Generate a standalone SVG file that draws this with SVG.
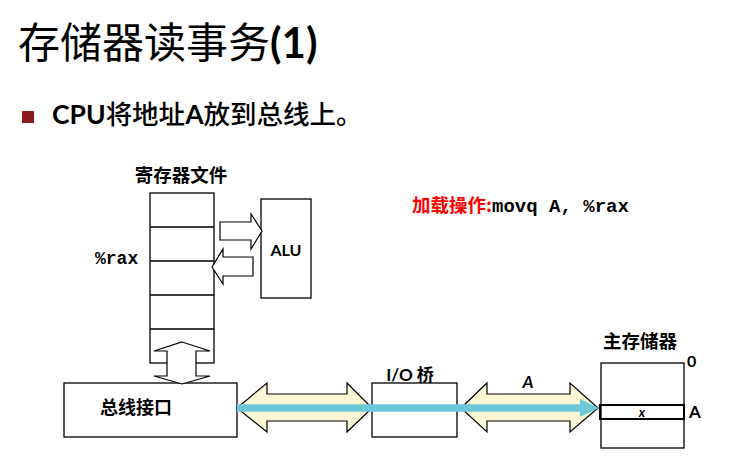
<svg xmlns="http://www.w3.org/2000/svg" width="754" height="457" viewBox="0 0 754 457">
<style>
.box{fill:#fff;stroke:#000;stroke-width:1.3}
.cjk{font-family:"Lato","Noto Sans CJK SC",sans-serif;font-weight:bold;fill:#000}
.mono{font-family:"Liberation Mono",monospace;font-weight:bold;fill:#000}
.bus{fill:#FBF7D5;stroke:#000;stroke-width:1.2}
.wa{fill:#fff;stroke:#000;stroke-width:1.2}
</style>
<rect width="754" height="457" fill="#fff"/>
<g id="title">
<text x="18" y="58" font-family="Lato,'Noto Sans CJK SC',sans-serif" font-size="42" fill="#000">存储器读事务<tspan font-weight="bold">(1)</tspan></text>
</g>
<g id="bullet">
<rect x="22" y="111" width="12" height="12" fill="#8B1A1A"/>
<text x="52" y="124" class="cjk" font-size="26.5">CPU<tspan font-weight="500">将地址</tspan>A<tspan font-weight="500">放到总线上。</tspan></text>
</g>
<g id="op">
<text x="412" y="212" font-family="'Noto Sans CJK SC',sans-serif" font-weight="bold" font-size="18.5" fill="#F00">加载操作:<tspan class="mono" font-size="19" fill="#000">movq A, %rax</tspan></text>
</g>
<g id="regfile">
<text x="181" y="182" class="cjk" font-size="18.5" text-anchor="middle">寄存器文件</text>
<rect x="150" y="193" width="64" height="170" class="box"/>
<path d="M150 227H214M150 261H214M150 295H214M150 329H214" stroke="#000" stroke-width="1.3"/>
<text x="95" y="264" class="mono" font-size="18">%rax</text>
</g>
<g id="alu">
<rect x="261" y="199" width="50" height="99" class="box"/>
<text x="286" y="256" class="cjk" font-size="16" text-anchor="middle">ALU</text>
</g>
<g id="businterface">
<rect x="64" y="383" width="173" height="54" class="box"/>
<text x="136" y="414" class="cjk" font-size="18" text-anchor="middle">总线接口</text>
</g>
<g id="iobridge">
<rect x="372" y="383" width="85" height="54" class="box"/>
<text x="410" y="381" class="cjk" font-size="17" text-anchor="middle">I/O 桥</text>
</g>
<g id="memory">
<text x="640" y="348" class="cjk" font-size="18.5" text-anchor="middle">主存储器</text>
<rect x="601" y="363" width="83" height="85" class="box"/>
<rect x="600" y="405" width="84" height="14" fill="none" stroke="#000" stroke-width="2"/>
<text x="642" y="417" font-family="Lato,sans-serif" font-weight="bold" font-style="italic" font-size="13" text-anchor="middle">x</text>
<text x="687" y="367" class="cjk" font-size="16">0</text>
<text x="689" y="418" class="cjk" font-size="17">A</text>
</g>
<g id="connectors">
<polygon class="wa" points="220,222 251,222 251,214 262,231 251,249 251,240 220,240"/>
<polygon class="wa" points="253,257 223,257 223,249 212,267 223,284 223,276 253,276"/>
<polygon class="wa" points="182,342 210,351 196,351 196,376 210,376 182,384 154,376 167,376 167,351 154,351"/>
<polygon class="bus" points="237,408 267,383 267,394 347,394 347,383 372,408 347,432 347,421 267,421 267,432"/>
<polygon class="bus" points="461,408 487,383 487,394 570,394 570,383 598,408 570,432 570,421 487,421 487,432"/>
<text x="528" y="388" font-family="Lato,sans-serif" font-weight="bold" font-style="italic" font-size="17" text-anchor="middle">A</text>
<line x1="237" y1="408" x2="582" y2="408" stroke="#6CC8D8" stroke-width="7.5"/>
<polygon points="580,399 599,408 580,417" fill="#6CC8D8"/>
</g>
</svg>
